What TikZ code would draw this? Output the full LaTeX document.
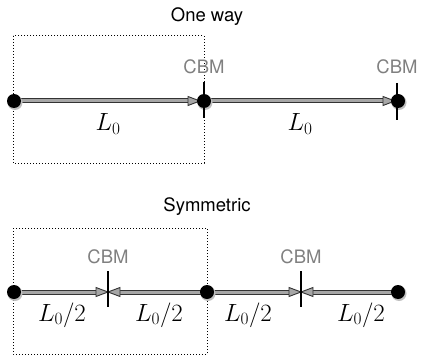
\documentclass[tikz,border=0pt]{standalone}
\usepackage{fontspec}
\newfontfamily\hel{TeX Gyre Heros}
\begin{document}
\begin{tikzpicture}[x=1pt,y=-1pt,
  title/.style={font=\hel\fontsize{18.5}{22}\selectfont, text=black, inner sep=0pt},
  cbm/.style={font=\hel\fontsize{18.5}{22}\selectfont, text=black!50, inner sep=0pt},
  len/.style={font=\fontsize{23}{26}\selectfont, inner sep=0pt},
  frame/.style={draw=black, line width=1pt, dash pattern=on 1pt off 2pt},
  outer/.style={draw=black!80, line width=5pt},
  inner/.style={draw=black!35, line width=3pt},
  headst/.style={fill=black!35, draw=black!80, line width=0.9pt, line join=miter},
  dot/.style={circle, fill=black, minimum size=14pt, inner sep=0pt},
  shade/.style={circle, fill=black!25, minimum size=15pt, inner sep=0pt},
  tick/.style={draw=black, line width=1.8pt}]
\useasboundingbox (0,0) rectangle (422,358);

% ---------- One way ----------
\node[title] (t1) at (207,17) {One way};
\draw[frame] (13,36) rectangle (204,163);

\coordinate (a1) at (14,101);
\coordinate (a2) at (204,101);
\coordinate (a3) at (398,101);
\coordinate (h1) at (200,101);
\coordinate (h2) at (395,101);

\draw[outer] (a1) -- ([xshift=-10pt]h1);
\draw[inner] (a1) -- ([xshift=-10pt]h1);
\filldraw[headst] (h1) -- ++(-12,-4.5) -- ++(0,9) -- cycle;
\draw[outer] (a2) -- ([xshift=-10pt]h2);
\draw[inner] (a2) -- ([xshift=-10pt]h2);
\filldraw[headst] (h2) -- ++(-12,-4.5) -- ++(0,9) -- cycle;

\node[shade] at ([shift={(1,1.5)}]a1) {};
\node[shade] at ([shift={(1,1.5)}]a2) {};
\node[shade] at ([shift={(1,1.5)}]a3) {};
\node[dot] (d1) at (a1) {};
\node[dot] (d2) at (a2) {};
\node[dot] (d3) at (a3) {};
\draw[tick] (204,82) -- (204,118);
\draw[tick] (397,83) -- (397,120);

\node[cbm] (c1) at (204,67) {CBM};
\node[cbm] (c2) at (397,67) {CBM};
\node[len] (l1) at (108,124) {$L_0$};
\node[len] (l2) at (300,124) {$L_0$};

% ---------- Symmetric ----------
\node[title] (t2) at (207,207) {Symmetric};
\draw[frame] (13,228) rectangle (207,354);

\coordinate (b1) at (14,292);
\coordinate (b2) at (207,292);
\coordinate (b3) at (398,292);
\coordinate (k1) at (108,292);
\coordinate (k2) at (301,292);

\draw[outer] (b1) -- ([xshift=-10pt]k1);
\draw[inner] (b1) -- ([xshift=-10pt]k1);
\filldraw[headst] (k1) -- ++(-12,-4.5) -- ++(0,9) -- cycle;
\draw[outer] (b2) -- ([xshift=10pt]k1);
\draw[inner] (b2) -- ([xshift=10pt]k1);
\filldraw[headst] (k1) -- ++(12,-4.5) -- ++(0,9) -- cycle;
\draw[outer] (b2) -- ([xshift=-10pt]k2);
\draw[inner] (b2) -- ([xshift=-10pt]k2);
\filldraw[headst] (k2) -- ++(-12,-4.5) -- ++(0,9) -- cycle;
\draw[outer] (b3) -- ([xshift=10pt]k2);
\draw[inner] (b3) -- ([xshift=10pt]k2);
\filldraw[headst] (k2) -- ++(12,-4.5) -- ++(0,9) -- cycle;

\node[shade] at ([shift={(1,1.5)}]b1) {};
\node[shade] at ([shift={(1,1.5)}]b2) {};
\node[shade] at ([shift={(1,1.5)}]b3) {};
\node[dot] (e1) at (b1) {};
\node[dot] (e2) at (b2) {};
\node[dot] (e3) at (b3) {};
\draw[tick] (108,271) -- (108,307);
\draw[tick] (301,271) -- (301,307);

\node[cbm] (c3) at (108,257) {CBM};
\node[cbm] (c4) at (301,257) {CBM};
\node[len] (m1) at (62,315) {$L_0/2$};
\node[len] (m2) at (159,315) {$L_0/2$};
\node[len] (m3) at (248,315) {$L_0/2$};
\node[len] (m4) at (361,315) {$L_0/2$};
\end{tikzpicture}
\end{document}
